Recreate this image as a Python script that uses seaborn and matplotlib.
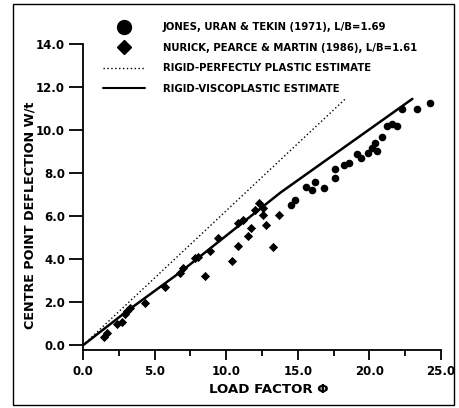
import matplotlib
matplotlib.use("Agg")
import matplotlib.pyplot as plt
from matplotlib.lines import Line2D
from matplotlib.patches import Rectangle
import seaborn as sns
import pandas as pd

# Jones, Uran & Tekin (1971)
jones_x = [14.5, 14.8, 15.6, 16.0, 16.2, 16.8, 17.6, 17.6, 18.2, 18.6, 19.1, 19.4, 19.9,
           20.2, 20.4, 20.5, 20.9, 21.2, 21.6, 21.9, 22.3, 23.3, 24.2]
jones_y = [6.5, 6.75, 7.35, 7.2, 7.6, 7.3, 8.2, 7.75, 8.4, 8.45, 8.9, 8.7, 8.95,
           9.15, 9.4, 9.05, 9.7, 10.2, 10.3, 10.2, 11.0, 11.0, 11.25]
# Nurick, Pearce & Martin (1986)
nurick_x = [1.5, 1.7, 2.4, 2.7, 2.9, 3.1, 3.3, 4.3, 5.7, 6.8, 7.0, 7.8, 8.0, 8.5, 8.9, 9.4,
            10.4, 10.8, 10.8, 11.2, 11.5, 11.7, 12.0, 12.3, 12.6, 12.6, 12.8, 13.3, 13.7]
nurick_y = [0.4, 0.55, 1.0, 1.1, 1.45, 1.6, 1.75, 1.95, 2.7, 3.35, 3.6, 4.05, 4.1, 3.2, 4.4, 5.0,
            3.9, 4.6, 5.7, 5.8, 5.1, 5.45, 6.3, 6.6, 6.4, 6.05, 5.6, 4.55, 6.05]
# Rigid-perfectly plastic estimate
rpp_x = [0.0, 18.4]
rpp_y = [0.0, 11.5]
# Rigid-viscoplastic estimate
rvp_x = [0.0, 3.0, 6.8, 13.8, 23.0]
rvp_y = [0.0, 1.55, 3.4, 7.1, 11.45]

xticks = [0.0, 5.0, 10.0, 15.0, 20.0, 25.0]
yticks = [0.0, 2.0, 4.0, 6.0, 8.0, 10.0, 12.0, 14.0]

labels = ["JONES, URAN & TEKIN (1971), L/B=1.69",
          "NURICK, PEARCE & MARTIN (1986), L/B=1.61",
          "RIGID-PERFECTLY PLASTIC ESTIMATE",
          "RIGID-VISCOPLASTIC ESTIMATE"]

sns.set_theme(style="ticks")
plt.rcParams['font.family'] = ['DejaVu Sans']
plt.rcParams['font.weight'] = 'bold'
plt.rcParams['text.color'] = 'black'
plt.rcParams['axes.labelcolor'] = 'black'
plt.rcParams['xtick.color'] = 'black'
plt.rcParams['ytick.color'] = 'black'

fig = plt.figure(figsize=(4.59, 4.08), dpi=100)
ax = fig.add_axes([83/459, 58/408, 358/459, 306/408])

df_j = pd.DataFrame({"x": jones_x, "y": jones_y})
df_n = pd.DataFrame({"x": nurick_x, "y": nurick_y})
sns.lineplot(x=rpp_x, y=rpp_y, ax=ax, color="black", lw=1.0, linestyle=(0, (1, 1.8)),
             estimator=None, sort=False)
sns.lineplot(x=rvp_x, y=rvp_y, ax=ax, color="black", lw=1.8, estimator=None, sort=False)
sns.scatterplot(data=df_j, x="x", y="y", ax=ax, marker="o", s=30, color="black",
                edgecolor="black", linewidth=0)
sns.scatterplot(data=df_n, x="x", y="y", ax=ax, marker="D", s=22, color="black",
                edgecolor="black", linewidth=0)

ax.set_xlim(0, 25)
ax.set_ylim(-0.22, 14.0)
ax.set_xticks(xticks)
ax.set_xticklabels([f"{v:.1f}" for v in xticks])
ax.set_xticks([2.5, 7.5, 12.5, 17.5, 22.5], minor=True)
ax.set_yticks(yticks)
ax.set_yticklabels([f"{v:.1f}" for v in yticks])
ax.tick_params(axis="y", which="major", direction="out", length=10, width=1.3,
               labelsize=8.5, colors="black", pad=3)
ax.tick_params(axis="x", which="major", direction="out", length=7, width=1.3,
               labelsize=8.5, colors="black", pad=4)
ax.tick_params(axis="x", which="minor", direction="out", length=4, width=1.3)
for lab in ax.get_xticklabels() + ax.get_yticklabels():
    lab.set_fontweight("bold")
sns.despine(ax=ax)
for sp in ["left", "bottom"]:
    ax.spines[sp].set_linewidth(1.3)
    ax.spines[sp].set_color("black")

ax.set_xlabel("LOAD FACTOR Φ", fontsize=9.6, fontweight="bold", color="black")
ax.xaxis.set_label_coords(0.52, -33/306)
ax.set_ylabel("CENTRE POINT DEFLECTION W/t", fontsize=9.2, fontweight="bold", color="black")
ax.yaxis.set_label_coords(-46/358, 0.44)

handles = [
    Line2D([], [], marker="o", color="black", linestyle="none", markersize=10),
    Line2D([], [], marker="D", color="black", linestyle="none", markersize=7.5),
    Line2D([], [], color="black", lw=1.0, linestyle=(0, (1, 1.8))),
    Line2D([], [], color="black", lw=1.5),
]
leg = fig.legend(handles, labels, loc="upper left", bbox_to_anchor=(99/459, 1 - 18/408),
                 frameon=False, prop={"size": 7.3, "weight": "bold"}, handlelength=4.1,
                 handletextpad=1.8, labelspacing=1.05, borderaxespad=0, labelcolor="black")

fig.patches.append(Rectangle((13/459, 3/408), 441/459, 401/408, transform=fig.transFigure,
                             fill=False, edgecolor="black", lw=1.0))

fig.savefig("out.png", dpi=100)
